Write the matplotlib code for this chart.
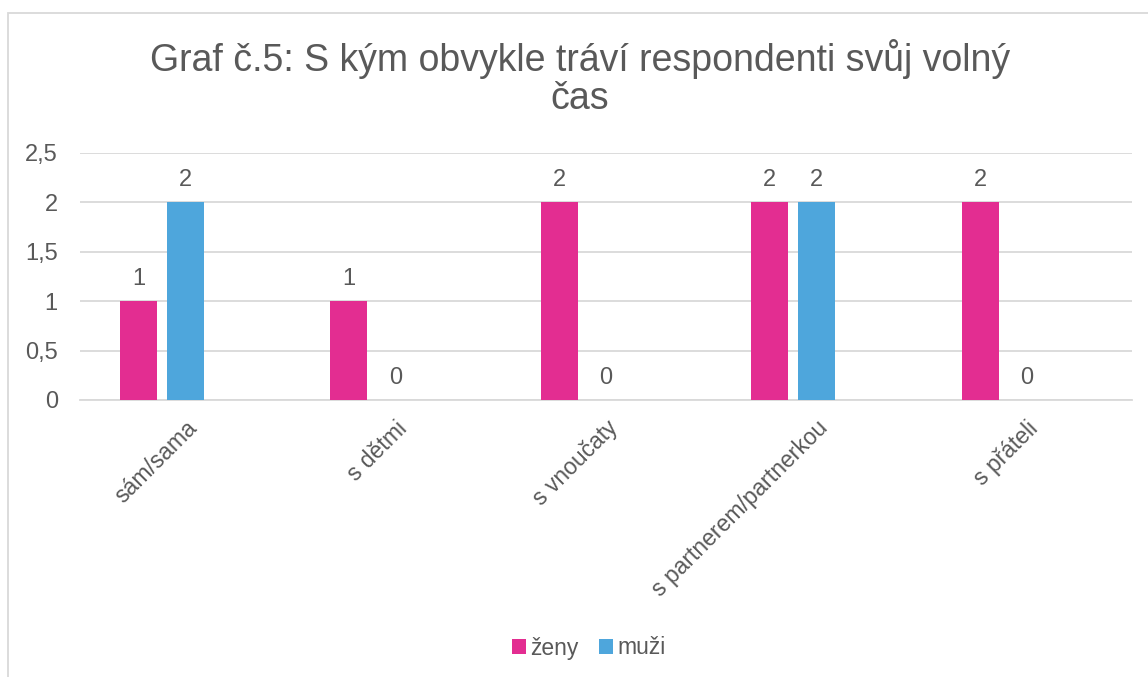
import numpy as np
import matplotlib
matplotlib.use('Agg')
from matplotlib import pyplot as plt
from matplotlib.patches import Rectangle

plt.rcParams['font.family'] = ['Liberation Sans', 'DejaVu Sans']

categories = ['sám/sama', 's dětmi', 's vnoučaty', 's partnerem/partnerkou', 's přáteli']
zeny = [1, 1, 2, 2, 2]
muzi = [2, 0, 0, 2, 0]
series_names = ['ženy', 'muži']
colors = ['#E32D91', '#4EA6DC']
title = 'Graf č.5: S kým obvykle tráví respondenti svůj volný\nčas'
text_color = '#595959'
grid_color = '#D9D9D9'

W, H = 1148, 677
fig = plt.figure(figsize=(W / 100, H / 100), dpi=100)
ax = fig.add_axes([80 / W, 1 - 400 / H, (1132 - 80) / W, (400 - 153) / H])

x = np.arange(len(categories))
bw = 0.176
step = 0.222
for i, (vals, col) in enumerate(zip([zeny, muzi], colors)):
    pos = x - step + i * step
    ax.bar(pos, vals, width=bw, color=col, label=series_names[i], zorder=3)
    for xi, v in zip(pos, vals):
        ax.text(xi, v + 0.115, str(v), ha='center', va='bottom', fontsize=17, color=text_color)

ax.set_xlim(-0.5, len(categories) - 0.5)
ax.set_ylim(0, 2.5)
ax.set_yticks(np.arange(0, 2.51, 0.5))
ax.set_yticklabels(['0', '0,5', '1', '1,5', '2', '2,5'])
ax.yaxis.grid(True, color=grid_color, linewidth=1.3, zorder=0)
for s in ['top', 'right', 'left']:
    ax.spines[s].set_visible(False)
ax.spines['bottom'].set_color(grid_color)
ax.spines['bottom'].set_linewidth(1.3)
ax.tick_params(axis='both', length=0, labelcolor=text_color)
ax.tick_params(axis='y', pad=16, labelsize=17)
ax.set_xticks(x)
ax.set_xticklabels(categories, rotation=45, ha='right', rotation_mode='anchor')
ax.tick_params(axis='x', pad=12, labelsize=16.5)

fig.text(580 / W, 1 - 78 / H, title, ha='center', va='center', fontsize=27,
         color=text_color, linespacing=1.1)

ax.legend(loc='center', bbox_to_anchor=(589 / W, 1 - 648 / H), bbox_transform=fig.transFigure,
          ncol=2, frameon=False, fontsize=16.5, handlelength=0.6, handleheight=0.6,
          handletextpad=0.2, columnspacing=0.9, labelcolor=text_color)

fig.patches.append(Rectangle((8 / W, -0.1), 1.2, 1 - 13 / H + 0.1, transform=fig.transFigure,
                             fill=False, edgecolor=grid_color, linewidth=1.3))

fig.savefig('out.png', dpi=100)
